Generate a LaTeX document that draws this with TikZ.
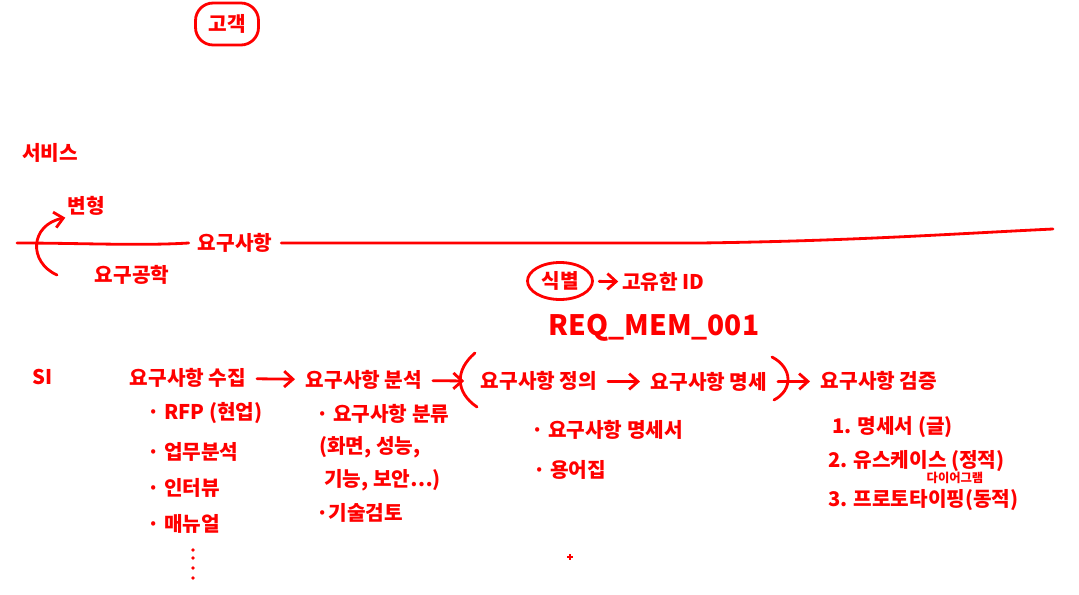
\documentclass[tikz,border=0pt]{standalone}
\usepackage{fontspec}
\setmainfont{Noto Sans CJK KR}
\usetikzlibrary{positioning,shapes.geometric,arrows.meta}

\definecolor{pen}{RGB}{255,0,0}
\newcommand{\PenSize}{\fontsize{11.5}{13}\selectfont\bfseries}

\tikzset{
  pentxt/.style={text=pen, inner sep=1pt, font=\PenSize},
  penline/.style={draw=pen, line width=1.6pt, line cap=round},
  penarrow/.style={penline, -{Straight Barb[length=5pt,width=9pt]}, shorten <=5pt, shorten >=5pt}
}

\begin{document}
\begin{tikzpicture}[x=0.02cm, y=-0.02cm]
\fill[white] (0,0) rectangle (1079,595);
\useasboundingbox (0,0) rectangle (1079,595);

\node[pentxt, draw=pen, line width=1.6pt, rounded corners=10pt,
      minimum width=1.26cm, minimum height=0.84cm] (cust) at (227,24) {고객};

\node[pentxt] (svc) at (50,153) {서비스};
\node[pentxt] (varnt) at (86,206) {변형};
\node[pentxt, inner sep=5pt] (req) at (235,243) {요구사항};
\node[pentxt] (reqeng) at (132,275) {요구공학};

\coordinate (lineL) at (17,243);
\coordinate (lineR) at (1053,229);
\coordinate (arcS) at (57,275);
\draw[penline] (lineL) .. controls (80,243) and (140,246) .. (req.west);% left part
\draw[penline] (req.east) -- (700,243) .. controls (850,241) and (950,234) .. (lineR);% right part
\draw[penline, -{Straight Barb[length=5pt,width=9pt]}] (arcS) .. controls (28,262) and (30,225) .. (varnt.south west);

% identification
\node[pentxt, draw=pen, ellipse, line width=1.6pt, minimum width=1.3cm,
      minimum height=0.74cm, inner sep=0pt] (ident) at (560,281) {식별};
\node[pentxt, anchor=west] (uid) at (620,282) {고유한 ID};
\draw[penarrow, shorten <=3pt, shorten >=1pt] (ident) -- (uid);
\node[pentxt, font=\fontsize{16}{18}\selectfont\bfseries] (reqid) at (654,328) {REQ\_MEM\_001};

% process row
\node[pentxt, anchor=west] (si) at (30,377) {SI};
\node[pentxt] (collect) at (188,378) {요구사항 수집};
\node[pentxt] (analyze) at (364,380) {요구사항 분석};
\node[pentxt] (define) at (539,381) {요구사항 정의};
\node[pentxt] (spec) at (709,382) {요구사항 명세};
\node[pentxt] (verify) at (879,381) {요구사항 검증};
\coordinate (lpar) at (466,381);

\draw[penarrow] (collect) -- (analyze);
\draw[penarrow, shorten >=1pt] (analyze) -- (lpar);
\draw[penline] (475,353) .. controls (455,370) and (455,392) .. (477,407);% open bracket
\draw[penarrow] (define) -- (spec);
\draw[penline] (772,357) .. controls (793,368) and (793,390) .. (774,400);% close bracket
\draw[penarrow] (spec) -- (verify);

% lists under each step
\foreach \name/\x/\y/\txt in {rfp/145/413/{· RFP (현업)}, biz/145/452/{· 업무분석},
    intv/145/488/{· 인터뷰}, manual/145/524/{· 매뉴얼},
    sort/314/414/{· 요구사항 분류}, kinds/317/447/{(화면, 성능,},
    kindsb/322/480/{기능, 보안…)}, tech/314/513/{·기술검토},
    srs/529/430/{· 요구사항 명세서}, gloss/531/470/{· 용어집},
    chk1/830/427/{1. 명세서 (글)}, chk2/826/461/{2. 유스케이스 (정적)},
    chk3/826/500/{3. 프로토타이핑(동적)}}{
    \node[pentxt, anchor=west] (\name) at (\x,\y) {\txt};
}
\node[pentxt, font=\fontsize{7}{8}\selectfont\bfseries] (diag) at (955,478) {다이어그램};

\foreach \y in {550,558,568,578}{
    \fill[pen] (193,\y) circle (1.1pt);
}
\draw[pen, line width=0.8pt] (567,557) -- (573,557) (570,554) -- (570,560);% cursor mark
\end{tikzpicture}
\end{document}
